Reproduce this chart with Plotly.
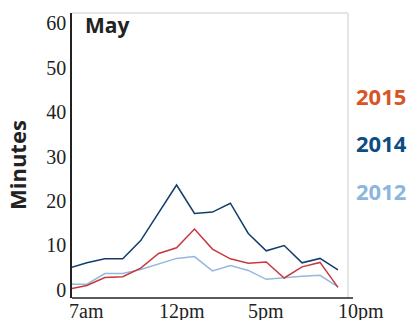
import plotly.graph_objects as go

SERIF = 'Liberation Serif, Times New Roman, serif'
SANS = 'Open Sans, Noto Sans, sans-serif'

hours = list(range(7, 23))  # 7am .. 10pm
y2015 = [0.2, 1.0, 2.8, 3.0, 4.9, 8.2, 9.5, 13.7, 9.2, 7.0, 6.0, 6.3, 2.7, 5.2, 6.2, 0.6]
y2014 = [4.9, 6.1, 7.0, 7.0, 11.1, 17.5, 23.6, 17.2, 17.5, 19.5, 12.7, 8.8, 10.0, 6.1, 7.1, 4.5]
y2012 = [1.3, 1.3, 3.7, 3.7, 4.6, 5.8, 7.1, 7.5, 4.3, 5.5, 4.4, 2.4, 2.8, 3.1, 3.3, 0.7]

series = [('2012', y2012, '#94b8de', '#8db6df'),
          ('2015', y2015, '#c8383c', '#d95525'),
          ('2014', y2014, '#123e6b', '#0b4d83')]
label_y = {'2015': 96, '2014': 143, '2012': 191}   # px from top

xtick_vals = [7, 12, 17, 22]
xtick_text = ['7am', '12pm', '5pm', '10pm']
ytick_vals = [0, 10, 20, 30, 40, 50, 60]
XR = [7.17, 22.56]

W, H = 410, 320
L, T = 72, 13
R, B = W - 348, H - 298
PW, PH = W - L - R, H - T - B


def px(xs):
    """pixel x -> paper fraction"""
    return (xs - L) / PW


def py(ys):
    """pixel y -> paper fraction"""
    return 1 - (ys - T) / PH


fig = go.Figure()
for name, ys, col, _ in series:
    fig.add_trace(go.Scatter(x=hours, y=ys, mode='lines', name=name,
                             line=dict(color=col, width=1.5), showlegend=False))

# x tick labels, left-anchored at each tick (7am sits just left of the axis)
for v, t in zip(xtick_vals, xtick_text):
    fig.add_annotation(x=(v - XR[0]) / (XR[1] - XR[0]), y=0, xref='paper', yref='paper',
                       text=t, showarrow=False, xanchor='left', yanchor='top',
                       xshift=-2, yshift=0,
                       font=dict(family=SERIF, size=20, color='#222'))

# year labels on the right
for name, _, _, tcol in series:
    fig.add_annotation(x=px(354), y=py(label_y[name]), xref='paper', yref='paper',
                       text=f'<b>{name}</b>', showarrow=False, xanchor='left',
                       yanchor='middle', font=dict(family=SANS, size=22, color=tcol))

fig.add_annotation(x=px(83), y=py(25), xref='paper', yref='paper', text='<b>May</b>',
                   showarrow=False, xanchor='left', yanchor='middle',
                   font=dict(family=SANS, size=21, color='#222'))
fig.add_annotation(x=px(17), y=py(165), xref='paper', yref='paper', text='<b>Minutes</b>',
                   showarrow=False, textangle=-90, xanchor='center', yanchor='middle',
                   font=dict(family=SANS, size=22, color='#222'))

# light frame on top and right, long black baseline
fig.add_shape(type='line', xref='paper', yref='paper', x0=0, x1=1, y0=1, y1=1,
              line=dict(color='#dddddd', width=1.5))
fig.add_shape(type='line', xref='paper', yref='paper', x0=1, x1=1, y0=0, y1=1,
              line=dict(color='#dddddd', width=1.5))
fig.add_shape(type='line', xref='paper', yref='paper', x0=0, x1=1 + 5 / PW, y0=0, y1=0,
              line=dict(color='#222', width=1.5))

fig.update_layout(
    width=W, height=H, margin=dict(l=L, r=R, t=T, b=B),
    plot_bgcolor='white', paper_bgcolor='white',
    xaxis=dict(range=XR, showticklabels=False, showgrid=False, zeroline=False,
               showline=False, ticks=''),
    yaxis=dict(range=[-1.8, 62.25], tickvals=ytick_vals, showgrid=False, zeroline=False,
               showline=True, linecolor='#222', linewidth=1.5, ticks='',
               tickfont=dict(family=SERIF, size=20, color='#222')),
)

# drop the default 8px page margin so the 410x320 figure fills the window
fig.write_html('out.html', config={'displayModeBar': False},
               post_script="document.body.style.margin='0';")
